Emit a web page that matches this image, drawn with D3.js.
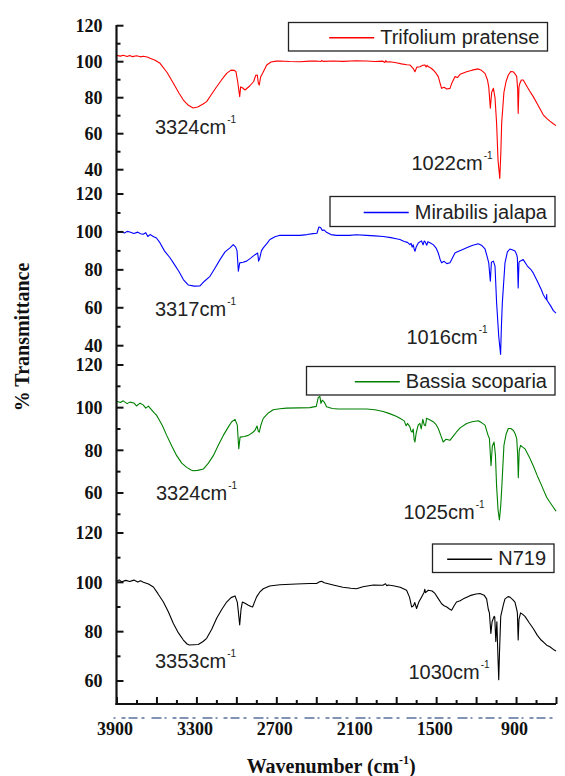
<!DOCTYPE html>
<html>
<head>
<meta charset="utf-8">
<script src="https://cdn.jsdelivr.net/npm/d3@7"></script>
<style>
  html, body { margin: 0; padding: 0; background: #fff; }
  svg { display: block; }
</style>
</head>
<body>
<svg id="chart" width="565" height="776"></svg>
<script>
// FTIR spectra, each point = [wavenumber (cm-1), transmittance (%)]
const trifolium = [
  [3900,103.5],[3870,103.1],[3850,103.6],[3820,102.9],[3800,103.5],[3780,102.8],[3750,103.3],
  [3720,102.7],[3700,103.0],[3670,102.6],[3648,101.9],[3610,100.8],[3573,99.1],[3520,94.0],
  [3473,88.0],[3430,82.5],[3398,78.7],[3360,75.8],[3324,74.3],[3290,74.8],[3250,76.5],
  [3223,77.8],[3190,81.5],[3148,86.1],[3110,90.0],[3073,93.5],[3040,95.3],[3015,95.2],
  [3003,94.4],[2990,89.0],[2975,80.5],[2968,86.0],[2955,85.5],[2935,84.3],[2900,86.5],
  [2870,89.0],[2855,92.4],[2843,92.6],[2835,88.0],[2828,87.0],[2818,91.5],[2800,94.0],
  [2772,98.2],[2740,99.8],[2700,100.3],[2673,100.4],[2600,100.1],[2523,100.0],[2450,100.3],
  [2400,100.4],[2365,100.1],[2360,100.7],[2350,100.2],[2275,100.4],[2200,100.2],[2100,100.5],
  [2022,100.4],[1960,100.1],[1900,100.3],[1885,99.6],[1878,100.6],[1870,99.8],[1847,100.0],
  [1800,99.4],[1760,98.8],[1720,98.3],[1697,98.2],[1670,96.0],[1659,94.4],[1645,97.0],
  [1622,97.2],[1600,98.0],[1584,98.2],[1575,97.0],[1568,98.0],[1560,97.3],[1540,96.5],
  [1522,95.4],[1500,93.5],[1484,91.7],[1470,88.0],[1459,85.2],[1440,85.8],[1420,84.8],
  [1396,85.2],[1380,88.5],[1359,91.7],[1340,91.2],[1320,93.0],[1271,94.4],[1230,95.3],
  [1184,96.0],[1160,95.2],[1133,93.5],[1115,90.0],[1105,86.0],[1093,74.1],[1083,83.0],
  [1070,85.2],[1058,80.0],[1046,65.8],[1035,45.0],[1022,35.2],[1014,50.0],[1008,65.8],
  [991,83.0],[975,89.0],[958,92.6],[940,94.5],[921,94.4],[905,93.0],[895,91.7],
  [888,85.0],[884,71.3],[878,86.0],[871,88.0],[860,89.8],[846,89.8],[820,86.5],
  [800,84.0],[771,80.6],[740,76.5],[710,72.5],[696,70.5],[670,68.5],[646,67.0],
  [620,65.5],[600,64.5]
];
const mirabilis = [
  [3900,99.8],[3870,100.2],[3840,99.4],[3820,100.3],[3800,100.0],[3770,99.2],[3740,99.9],
  [3720,99.0],[3700,98.8],[3680,99.6],[3665,97.6],[3648,98.6],[3620,97.5],[3600,96.8],[3573,94.2],
  [3540,90.0],[3500,86.5],[3473,83.7],[3430,79.0],[3398,74.9],[3360,72.0],[3317,71.4],
  [3273,71.5],[3240,74.0],[3198,76.6],[3160,81.0],[3123,85.4],[3085,89.5],[3048,91.6],
  [3023,93.3],[3005,92.0],[2995,90.0],[2985,79.3],[2975,83.7],[2950,84.0],[2923,84.6],
  [2890,86.3],[2860,88.0],[2840,88.9],[2833,84.6],[2825,86.0],[2812,90.0],[2798,91.6],
  [2770,94.0],[2748,96.0],[2710,97.5],[2673,98.2],[2600,98.2],[2523,98.2],[2470,98.6],
  [2423,99.1],[2395,99.3],[2380,102.6],[2368,102.3],[2355,100.8],[2340,101.0],[2323,99.8],
  [2290,98.6],[2248,98.2],[2150,98.2],[2100,98.5],[2022,98.2],[1960,97.9],[1897,97.6],
  [1840,97.0],[1800,96.4],[1772,96.0],[1740,95.0],[1715,94.5],[1697,93.3],[1688,94.0],
  [1680,92.0],[1672,93.2],[1665,91.0],[1659,89.8],[1650,92.0],[1634,94.2],[1610,95.3],
  [1598,93.2],[1590,95.2],[1584,95.0],[1570,93.0],[1562,94.8],[1540,94.0],[1522,93.3],
  [1500,91.5],[1484,88.9],[1470,85.5],[1459,83.7],[1440,84.5],[1420,83.3],[1396,83.7],
  [1375,86.7],[1359,88.9],[1340,89.5],[1300,90.7],[1271,91.6],[1230,92.8],[1184,93.8],
  [1160,93.0],[1133,91.0],[1115,86.5],[1105,83.7],[1093,74.0],[1085,84.0],[1070,84.6],
  [1058,82.0],[1046,62.6],[1030,45.0],[1016,35.4],[1010,50.0],[1003,62.6],[983,83.7],
  [965,89.5],[946,91.0],[925,90.5],[908,90.0],[895,88.0],[890,86.3],[884,70.5],
  [878,84.0],[871,84.6],[846,85.4],[815,82.0],[790,80.3],[771,78.4],[740,74.0],
  [710,69.5],[696,67.0],[680,65.0],[672,64.4],[670,67.0],[668,64.0],[640,61.0],
  [620,58.5],[600,57.2]
];
const bassia = [
  [3900,103.0],[3870,102.4],[3850,103.2],[3820,101.9],[3800,102.6],[3770,102.2],[3750,100.8],
  [3723,102.1],[3700,101.3],[3680,99.8],[3660,100.7],[3648,99.8],[3620,97.8],[3600,96.5],
  [3586,95.0],[3555,91.5],[3523,87.0],[3485,82.0],[3448,77.5],[3410,74.0],[3373,72.0],
  [3340,70.8],[3324,70.4],[3290,70.6],[3248,71.2],[3210,74.0],[3173,77.5],[3135,82.5],
  [3098,87.0],[3060,91.0],[3035,93.4],[3010,94.5],[2993,91.8],[2982,80.7],[2972,86.2],
  [2940,86.5],[2910,87.0],[2880,88.2],[2860,89.4],[2845,91.4],[2835,88.9],[2828,88.5],
  [2815,92.0],[2798,95.0],[2760,97.5],[2723,99.0],[2673,99.5],[2623,99.8],[2530,99.9],
  [2448,100.0],[2400,100.6],[2385,104.8],[2373,105.3],[2365,102.0],[2355,103.5],[2340,102.6],
  [2323,100.4],[2280,99.6],[2235,99.4],[2100,99.4],[2022,99.4],[1960,99.0],[1897,98.2],
  [1850,97.2],[1800,96.0],[1772,95.0],[1740,93.8],[1725,91.5],[1715,92.6],[1697,91.0],
  [1688,89.0],[1680,88.5],[1672,90.0],[1665,85.0],[1659,83.9],[1650,88.0],[1635,91.8],
  [1622,92.6],[1612,90.0],[1600,94.5],[1590,92.0],[1580,91.5],[1572,95.0],[1545,94.2],
  [1522,93.4],[1500,92.0],[1484,90.2],[1465,87.0],[1447,83.9],[1425,85.2],[1396,84.7],
  [1370,86.8],[1347,88.6],[1320,90.5],[1271,92.6],[1230,93.4],[1184,93.9],[1160,93.0],
  [1133,91.8],[1110,87.0],[1100,85.5],[1088,72.8],[1078,82.0],[1065,83.9],[1055,78.0],
  [1046,63.2],[1035,52.0],[1025,47.4],[1015,54.0],[1008,61.6],[991,82.3],[975,87.5],
  [958,90.2],[940,90.2],[921,89.4],[905,87.5],[895,85.5],[888,78.0],[883,67.2],
  [876,80.0],[866,82.3],[850,81.5],[833,80.7],[800,76.8],[771,72.8],[740,68.0],
  [710,63.8],[696,61.7],[670,58.0],[650,56.0],[620,53.3],[600,51.5]
];
const n719 = [
  [3900,100.4],[3880,101.0],[3860,100.2],[3830,100.8],[3800,100.3],[3770,100.9],[3740,100.1],
  [3720,100.6],[3698,100.0],[3660,99.3],[3623,98.1],[3590,95.5],[3548,92.0],[3510,88.0],
  [3473,83.3],[3435,79.5],[3398,76.6],[3370,75.0],[3353,74.6],[3320,74.7],[3286,74.8],
  [3250,76.0],[3223,77.3],[3185,81.0],[3148,85.4],[3110,89.0],[3073,92.0],[3040,93.8],
  [3010,94.5],[2993,92.0],[2985,88.0],[2975,82.7],[2965,89.0],[2955,92.0],[2935,91.5],
  [2910,90.7],[2890,90.2],[2878,90.0],[2860,92.5],[2848,94.1],[2825,96.0],[2798,97.4],
  [2750,98.5],[2673,99.0],[2550,99.3],[2450,99.5],[2398,99.5],[2375,100.2],[2360,100.4],
  [2340,99.8],[2273,98.9],[2200,98.0],[2140,97.6],[2098,97.4],[2050,98.2],[1972,98.9],
  [1900,98.8],[1880,99.4],[1870,98.6],[1860,98.9],[1822,98.6],[1770,98.0],[1722,96.8],
  [1700,94.0],[1684,90.0],[1670,90.5],[1660,91.8],[1647,89.4],[1630,92.0],[1609,94.1],
  [1590,96.0],[1585,97.2],[1580,95.8],[1559,96.8],[1530,96.5],[1509,95.5],[1485,93.5],
  [1459,91.3],[1440,90.5],[1420,90.0],[1400,89.2],[1384,88.7],[1365,90.5],[1347,92.0],
  [1320,92.5],[1296,93.3],[1270,94.0],[1246,94.6],[1200,95.3],[1171,95.5],[1140,94.8],
  [1121,93.3],[1108,89.0],[1100,87.6],[1089,79.3],[1080,84.0],[1065,86.2],[1060,86.0],
  [1052,76.0],[1044,84.0],[1036,70.0],[1030,60.5],[1024,72.0],[1015,86.2],[995,91.0],
  [983,93.3],[960,94.2],[946,94.0],[925,93.0],[908,92.0],[895,89.0],[890,87.6],
  [884,76.6],[878,85.0],[866,87.6],[850,87.0],[833,86.2],[800,83.5],[771,81.3],
  [740,78.5],[710,76.5],[696,75.9],[670,74.5],[646,73.9],[620,72.8],[600,72.2]
];

const seriesData = [trifolium, mirabilis, bassia, n719];
const seriesNames = ["Trifolium pratense", "Mirabilis jalapa", "Bassia scoparia", "N719"];
const seriesColors = ["#ff0000", "#0000ff", "#008000", "#000000"];
// band positions annotated on each spectrum: [O-H stretch, C-O stretch]
const bandLabels = [[3324, 1022], [3317, 1016], [3324, 1025], [3353, 1030]];

const xDomain = [3900, 600];
const xLabelTicks = [3900, 3300, 2700, 2100, 1500, 900];
const xMajorTicks = [3900, 3600, 3300, 3000, 2700, 2400, 2100, 1800, 1500, 1200, 900, 600];
const xMinorTicks = [3750, 3450, 3150, 2850, 2550, 2250, 1950, 1650, 1350, 1050, 750];

const yDomains = [[40, 120], [40, 120], [50, 120], [60, 120]];
const yMajorTicks = [[40, 60, 80, 100, 120], [40, 60, 80, 100, 120], [60, 80, 100, 120], [60, 80, 100, 120]];
const yMinorTicks = [[50, 70, 90, 110], [50, 70, 90, 110], [50, 70, 90, 110], [70, 90, 110]];

// ---- layout ----
const W = 565, H = 776;
const plotLeft = 116.5, plotRight = 556, axisY = 704, axisTop = 25;
const panelRanges = [[169.7, 25.7], [345.7, 194], [514.3, 365], [681, 533]];
const legendBoxes = [
  {x: 288.5, y: 22.5, w: 259, h: 28.5},
  {x: 330, y: 196.5, w: 225, h: 30},
  {x: 306.5, y: 366.5, w: 248.5, h: 28.5},
  {x: 432.5, y: 544, w: 121.5, h: 28.5}
];
// text positions for the band labels: [x, baseline]
const bandLabelPos = [
  [[155, 133.5], [411.5, 170]],
  [[155, 316], [406.5, 344]],
  [[156, 499.5], [403.5, 518.5]],
  [[155, 667.5], [408.5, 678.5]]
];

const svg = d3.select("#chart");
svg.append("rect").attr("width", W).attr("height", H).attr("fill", "#fff");

const x = d3.scaleLinear().domain(xDomain).range([plotLeft, plotRight]);
const yScales = yDomains.map((d, i) => d3.scaleLinear().domain(d).range(panelRanges[i]));

const serifFont = "'Liberation Serif', 'Times New Roman', serif";
const sansFont = "'Liberation Sans', Arial, sans-serif";

// spectra
seriesData.forEach((data, i) => {
  const y = yScales[i];
  const line = d3.line().x(d => x(d[0])).y(d => y(d[1]));
  svg.append("path")
    .datum(data)
    .attr("d", line)
    .attr("fill", "none")
    .attr("stroke", seriesColors[i])
    .attr("stroke-width", 1.1)
    .attr("stroke-linejoin", "round");
});

// band annotations with cm^-1 superscript
function wavenumberLabel(g, px, py, value) {
  const t = g.append("text")
    .attr("x", px).attr("y", py)
    .attr("font-family", sansFont)
    .attr("font-size", 20)
    .attr("fill", "#222");
  t.append("tspan").text(value + "cm");
  t.append("tspan").attr("dy", -11).attr("dx", 1).attr("font-size", 10).text("-1");
}
const annot = svg.append("g");
bandLabels.forEach((pair, i) => {
  pair.forEach((wn, j) => {
    const p = bandLabelPos[i][j];
    wavenumberLabel(annot, p[0], p[1], wn);
  });
});

// legends
seriesNames.forEach((name, i) => {
  const b = legendBoxes[i];
  const g = svg.append("g");
  g.append("rect")
    .attr("x", b.x).attr("y", b.y).attr("width", b.w).attr("height", b.h)
    .attr("fill", "none").attr("stroke", "#222").attr("stroke-width", 1.3);
  const textRight = b.x + b.w - 8;
  const txt = g.append("text")
    .attr("x", textRight).attr("y", b.y + b.h / 2 + 7)
    .attr("text-anchor", "end")
    .attr("font-family", sansFont).attr("font-size", 20)
    .attr("fill", "#222")
    .text(name);
  const tw = txt.node().getComputedTextLength();
  const lineEnd = textRight - tw - 6;
  g.append("line")
    .attr("x1", lineEnd - 45).attr("x2", lineEnd)
    .attr("y1", b.y + b.h / 2 + 1).attr("y2", b.y + b.h / 2 + 1)
    .attr("stroke", seriesColors[i]).attr("stroke-width", 1.3);
});

// left axis: one continuous spine with per-panel ticks
svg.append("line")
  .attr("x1", plotLeft).attr("x2", plotLeft)
  .attr("y1", axisTop).attr("y2", axisY + 1)
  .attr("stroke", "#111").attr("stroke-width", 2.2);

yScales.forEach((y, i) => {
  const g = svg.append("g");
  yMajorTicks[i].forEach(v => {
    g.append("line")
      .attr("x1", plotLeft).attr("x2", plotLeft + 7)
      .attr("y1", y(v)).attr("y2", y(v))
      .attr("stroke", "#111").attr("stroke-width", 2);
    g.append("text")
      .attr("x", plotLeft - 14).attr("y", y(v))
      .attr("dy", "0.35em")
      .attr("text-anchor", "end")
      .attr("font-family", serifFont).attr("font-weight", "bold").attr("font-size", 18)
      .attr("fill", "#111")
      .text(v);
  });
  yMinorTicks[i].forEach(v => {
    g.append("line")
      .attr("x1", plotLeft).attr("x2", plotLeft + 4)
      .attr("y1", y(v)).attr("y2", y(v))
      .attr("stroke", "#111").attr("stroke-width", 2);
  });
});

// bottom axis
const xAxisMajor = d3.axisBottom(x)
  .tickValues(xMajorTicks)
  .tickSizeInner(-7).tickSizeOuter(0)
  .tickPadding(18)
  .tickFormat(d => xLabelTicks.includes(d) ? d : "");
const gx = svg.append("g").attr("transform", `translate(0,${axisY})`).call(xAxisMajor);
gx.select(".domain").attr("stroke", "#111").attr("stroke-width", 2.2)
  .attr("d", `M${plotLeft - 1},0H${plotRight}`);
gx.selectAll(".tick line").attr("stroke", "#111").attr("stroke-width", 2);
gx.selectAll(".tick text")
  .attr("font-family", serifFont).attr("font-weight", "bold").attr("font-size", 18)
  .attr("fill", "#111")
  .attr("dx", -2);

const xAxisMinor = d3.axisBottom(x)
  .tickValues(xMinorTicks)
  .tickSizeInner(-4).tickSizeOuter(0)
  .tickFormat("");
const gxm = svg.append("g").attr("transform", `translate(0,${axisY})`).call(xAxisMinor);
gxm.select(".domain").remove();
gxm.selectAll(".tick line").attr("stroke", "#111").attr("stroke-width", 2);

// dashed rule under the axis
svg.append("line")
  .attr("x1", plotLeft - 3).attr("x2", plotRight)
  .attr("y1", axisY + 14).attr("y2", axisY + 14)
  .attr("stroke", "#3d5a8f").attr("stroke-width", 1.3)
  .attr("stroke-dasharray", "2,6,4,3,9,4,3,7,10,3")
  .attr("opacity", 0.85);

// axis titles
const xTitle = svg.append("text")
  .attr("x", (plotLeft + plotRight) / 2 - 5).attr("y", 773)
  .attr("text-anchor", "middle")
  .attr("font-family", serifFont).attr("font-weight", "bold").attr("font-size", 20)
  .attr("fill", "#111");
xTitle.append("tspan").text("Wavenumber (cm");
xTitle.append("tspan").attr("dy", -9).attr("font-size", 12).text("-1");
xTitle.append("tspan").attr("dy", 9).text(")");

svg.append("text")
  .attr("transform", "translate(29,337) rotate(-90)")
  .attr("text-anchor", "middle")
  .attr("font-family", serifFont).attr("font-weight", "bold").attr("font-size", 20)
  .attr("fill", "#111")
  .text("% Transmittance");
</script>
</body>
</html>
